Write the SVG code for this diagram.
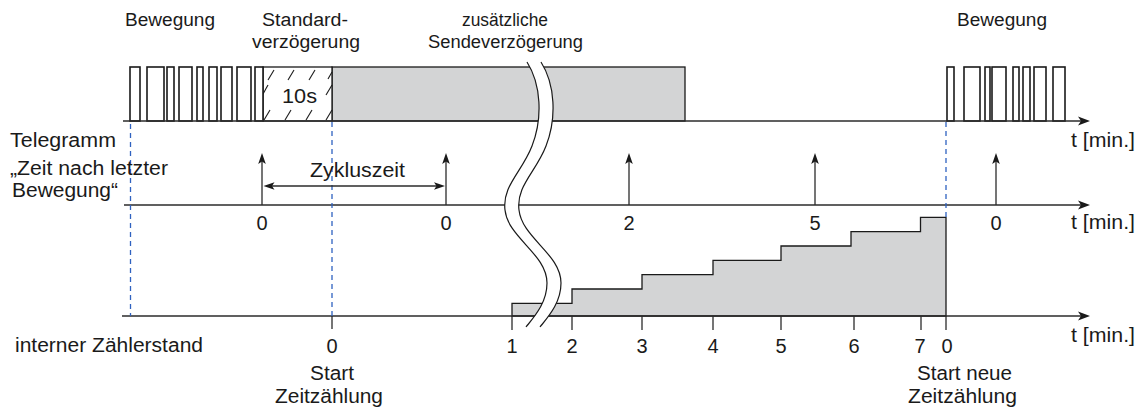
<svg xmlns="http://www.w3.org/2000/svg" width="1144" height="407" viewBox="0 0 1144 407">
<style>
.t{font-family:"Liberation Sans",Arial,sans-serif;font-size:19.5px;fill:#1a1a1a}
.s{font-size:18px}
.n{text-anchor:middle;font-size:20px}
.ax{stroke:#2b2b2b;stroke-width:1.3;fill:none}
.pl{fill:#fff;stroke:#1a1a1a;stroke-width:1.6}
.gray{fill:#d3d4d5;stroke:#1a1a1a;stroke-width:1.3}
.dash{stroke:#2f62c0;stroke-width:1.3;stroke-dasharray:5 4;fill:none}
.ah{fill:#1a1a1a}
.hatch{stroke:#1a1a1a;stroke-width:1.1}
.brk{fill:none;stroke:#1a1a1a;stroke-width:1.2}
</style>
<defs>
<path id="axh" d="M0,0 L-12,-4.5 L-9,0 L-12,4.5 Z"/>
<path id="uph" d="M0,0 L-3.8,11 L0,8.5 L3.8,11 Z"/>
<path id="lh" d="M0,0 L11,-3.8 L8.5,0 L11,3.8 Z"/>
<path id="rh" d="M0,0 L-11,-3.8 L-8.5,0 L-11,3.8 Z"/>
</defs>

<g id="gray-box">
<rect class="gray" x="332" y="67" width="353" height="54"/>
</g>

<g id="hatch-box">
<rect x="263" y="67" width="69" height="54" fill="#fff" stroke="#1a1a1a" stroke-width="1.3"/>
<g class="hatch">
<line x1="268" y1="80" x2="274" y2="70"/>
<line x1="288" y1="80" x2="294" y2="70"/>
<line x1="309" y1="80" x2="315" y2="70"/>
<line x1="328" y1="79" x2="332" y2="72"/>
<line x1="263" y1="94" x2="268" y2="85"/>
<line x1="326" y1="95" x2="332" y2="85"/>
<line x1="264" y1="120" x2="270" y2="110"/>
<line x1="285" y1="120" x2="291" y2="110"/>
<line x1="306" y1="120" x2="312" y2="110"/>
<line x1="326" y1="120" x2="332" y2="110"/>
</g>
<text class="t" x="282" y="103" style="font-size:21px" textLength="35" lengthAdjust="spacingAndGlyphs">10s</text>
</g>

<g id="pulses-left">
<rect class="pl" x="130" y="67" width="10" height="54"/>
<rect class="pl" x="147" y="67" width="17" height="54"/>
<rect class="pl" x="167" y="67" width="7" height="54"/>
<rect class="pl" x="179" y="67" width="13" height="54"/>
<rect class="pl" x="197" y="67" width="6" height="54"/>
<rect class="pl" x="209" y="67" width="8" height="54"/>
<rect class="pl" x="221" y="67" width="11" height="54"/>
<rect class="pl" x="237" y="67" width="14" height="54"/>
<rect class="pl" x="255" y="67" width="8" height="54"/>
</g>

<g id="pulses-right">
<rect class="pl" x="947" y="67" width="7" height="54"/>
<rect class="pl" x="964" y="67" width="16" height="54"/>
<rect class="pl" x="985" y="67" width="5" height="54"/>
<rect class="pl" x="992" y="67" width="14" height="54"/>
<rect class="pl" x="1013" y="67" width="6" height="54"/>
<rect class="pl" x="1023" y="67" width="7" height="54"/>
<rect class="pl" x="1034" y="67" width="12" height="54"/>
<rect class="pl" x="1053" y="67" width="12" height="54"/>
</g>

<g id="counter-stairs">
<path class="gray" stroke-width="1.2" d="M512,316 L512,303.3 L572,303.3 L572,289 L642,289 L642,274.7 L713,274.7 L713,260.3 L781,260.3 L781,246 L851,246 L851,231.6 L920.5,231.6 L920.5,217.3 L946,217.3 L946,316 Z"/>
</g>

<g id="connectors">
<g id="axes">
<line class="ax" x1="123" y1="121" x2="1082" y2="121"/>
<use href="#axh" class="ah" x="1090" y="121"/>
<line class="ax" x1="124" y1="205" x2="1082" y2="205"/>
<use href="#axh" class="ah" x="1090" y="205"/>
<line class="ax" x1="122" y1="316" x2="1082" y2="316"/>
<use href="#axh" class="ah" x="1090" y="316"/>
</g>
<g id="ticks" class="ax">
<line x1="332" y1="316" x2="332" y2="329"/>
<line x1="512" y1="316" x2="512" y2="330"/>
<line x1="572" y1="316" x2="572" y2="330"/>
<line x1="642" y1="316" x2="642" y2="330"/>
<line x1="713" y1="316" x2="713" y2="330"/>
<line x1="781" y1="316" x2="781" y2="330"/>
<line x1="854" y1="316" x2="854" y2="330"/>
<line x1="921" y1="316" x2="921" y2="330"/>
<line x1="946" y1="316" x2="946" y2="330"/>
</g>
<g id="dashed">
<line class="dash" x1="130.5" y1="124" x2="130.5" y2="316"/>
<line class="dash" x1="332" y1="122" x2="332" y2="316"/>
<line class="dash" x1="946" y1="122" x2="946" y2="217"/>
</g>
<g id="telegrams">
<line class="ax" x1="262" y1="205" x2="262" y2="160"/>
<use href="#uph" class="ah" x="262" y="153"/>
<line class="ax" x1="446" y1="205" x2="446" y2="160"/>
<use href="#uph" class="ah" x="446" y="153"/>
<line class="ax" x1="629" y1="205" x2="629" y2="160"/>
<use href="#uph" class="ah" x="629" y="153"/>
<line class="ax" x1="815" y1="205" x2="815" y2="160"/>
<use href="#uph" class="ah" x="815" y="153"/>
<line class="ax" x1="996" y1="205" x2="996" y2="160"/>
<use href="#uph" class="ah" x="996" y="153"/>
</g>
<g id="zykluszeit-arrow">
<line class="ax" x1="270" y1="186" x2="439" y2="186"/>
<use href="#lh" class="ah" x="263.5" y="186"/>
<use href="#rh" class="ah" x="445" y="186"/>
</g>
</g>

<g id="break">
<path fill="#fff" d="M527,62 C541,84 543,118 532,146 C522,172 502,186 505,210 C508,238 547,254 547,283 C547,303 534,317 526,327 L540,327 C548,317 561,303 561,283 C561,254 522,238 519,210 C516,186 536,172 546,146 C557,118 555,84 541,62 Z"/>
<path class="brk" d="M527,62 C541,84 543,118 532,146 C522,172 502,186 505,210 C508,238 547,254 547,283 C547,303 534,317 526,327"/>
<path class="brk" d="M541,62 C555,84 557,118 546,146 C536,172 516,186 519,210 C522,238 561,254 561,283 C561,303 548,317 540,327"/>
</g>

<g id="labels">
<text class="t s" x="125" y="26" textLength="90" lengthAdjust="spacingAndGlyphs">Bewegung</text>
<text class="t s" x="262" y="26" textLength="86" lengthAdjust="spacingAndGlyphs">Standard-</text>
<text class="t s" x="252" y="47.5" textLength="108" lengthAdjust="spacingAndGlyphs">verzögerung</text>
<text class="t s" x="462" y="26" textLength="86" lengthAdjust="spacingAndGlyphs">zusätzliche</text>
<text class="t s" x="428" y="47.5" textLength="155" lengthAdjust="spacingAndGlyphs">Sendeverzögerung</text>
<text class="t s" x="957" y="26" textLength="90" lengthAdjust="spacingAndGlyphs">Bewegung</text>

<text class="t" x="10" y="147" textLength="106" lengthAdjust="spacingAndGlyphs">Telegramm</text>
<text class="t" x="10" y="175" textLength="158" lengthAdjust="spacingAndGlyphs">„Zeit nach letzter</text>
<text class="t" x="12" y="197" textLength="106" lengthAdjust="spacingAndGlyphs">Bewegung“</text>
<text class="t" x="310" y="176.5" textLength="95" lengthAdjust="spacingAndGlyphs">Zykluszeit</text>

<text class="t" x="1071" y="147" textLength="64" lengthAdjust="spacingAndGlyphs">t [min.]</text>
<text class="t" x="1071" y="229" textLength="64" lengthAdjust="spacingAndGlyphs">t [min.]</text>
<text class="t" x="1071" y="342" textLength="64" lengthAdjust="spacingAndGlyphs">t [min.]</text>

<text class="t n" x="262" y="229.5">0</text>
<text class="t n" x="446" y="229.5">0</text>
<text class="t n" x="629" y="229.5">2</text>
<text class="t n" x="815" y="229.5">5</text>
<text class="t n" x="996" y="229.5">0</text>

<text class="t" x="15" y="352" textLength="188" lengthAdjust="spacingAndGlyphs">interner Zählerstand</text>
<text class="t n" x="332" y="353">0</text>
<text class="t n" x="512" y="353">1</text>
<text class="t n" x="572" y="353">2</text>
<text class="t n" x="642" y="353">3</text>
<text class="t n" x="713" y="353">4</text>
<text class="t n" x="781" y="353">5</text>
<text class="t n" x="854" y="353">6</text>
<text class="t n" x="920" y="353">7</text>
<text class="t n" x="947" y="353">0</text>

<text class="t" x="310" y="380" textLength="44" lengthAdjust="spacingAndGlyphs">Start</text>
<text class="t" x="275" y="403" textLength="108" lengthAdjust="spacingAndGlyphs">Zeitzählung</text>
<text class="t" x="917" y="380" textLength="95" lengthAdjust="spacingAndGlyphs">Start neue</text>
<text class="t" x="908" y="403" textLength="109" lengthAdjust="spacingAndGlyphs">Zeitzählung</text>
</g>
</svg>
